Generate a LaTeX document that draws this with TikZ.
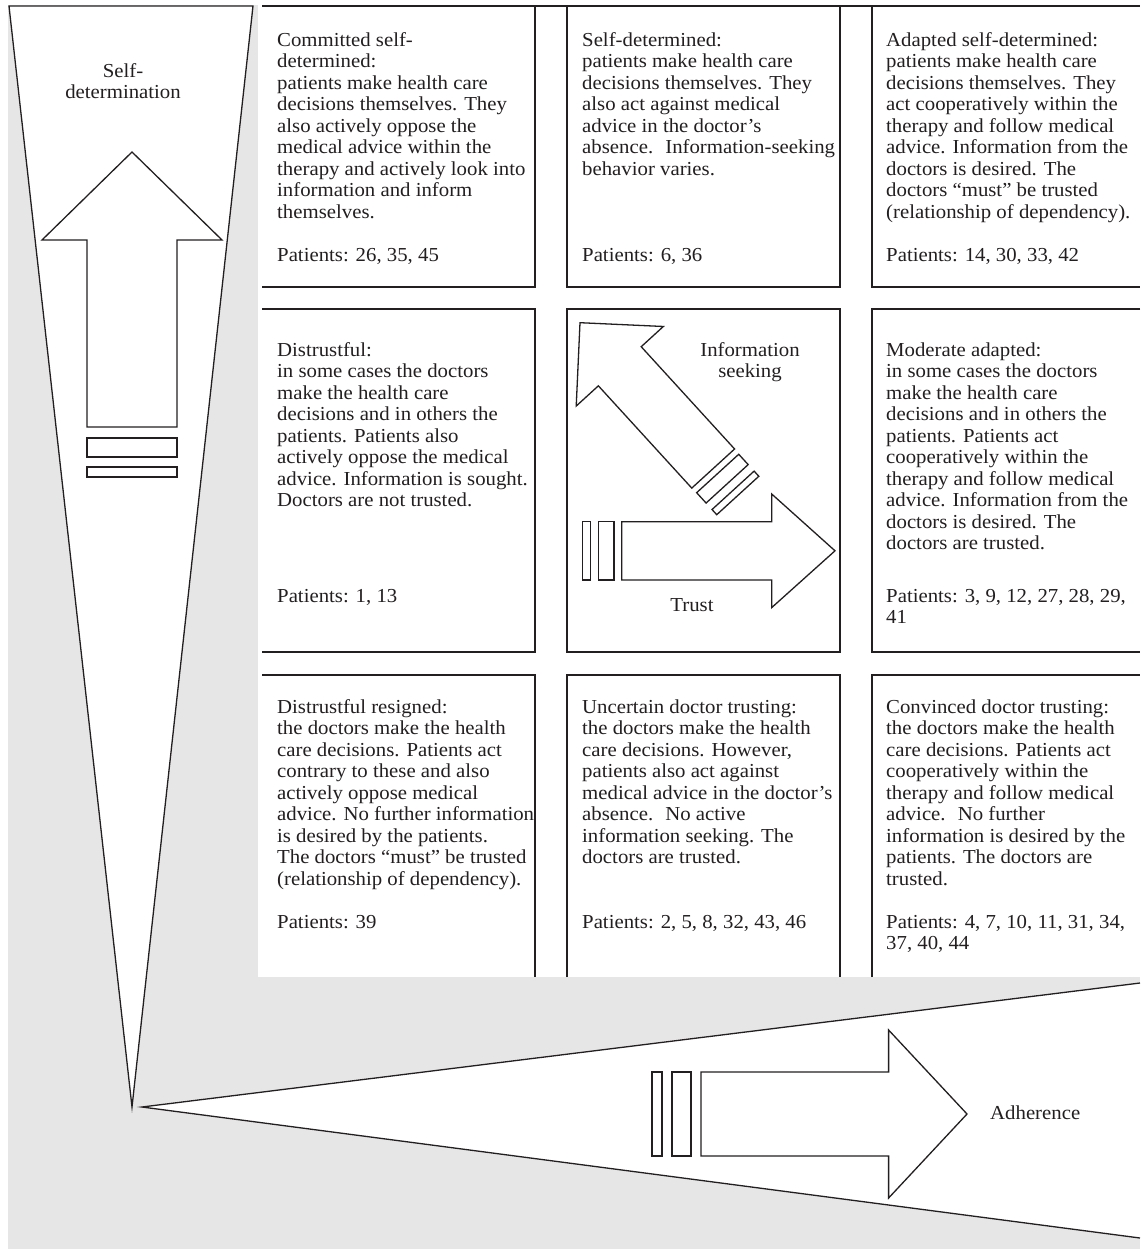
\documentclass[tikz,border=0pt]{standalone}
\usepackage{fontspec}
\setmainfont{Liberation Serif}[FakeStretch=1.05]
\definecolor{bggray}{HTML}{E6E6E6}
\definecolor{ink}{HTML}{231F20}
\begin{document}
\begin{tikzpicture}[x=1pt,y=-1pt,
  boxline/.style={draw=ink,line width=1.4pt},
  shapeline/.style={draw=ink,fill=white,line width=1.3pt,line join=miter},
  txt/.style={anchor=north west,inner sep=0pt,align=left,font=\fontsize{19.8}{21.5}\selectfont,text=ink},
  lbl/.style={inner sep=0pt,align=center,font=\fontsize{19.8}{21.5}\selectfont,text=ink}]
\useasboundingbox (0,0) rectangle (1140,1249);
\fill[white] (0,0) rectangle (1140,1249);
\fill[bggray] (8,5) rectangle (1140,1249);
\fill[white] (258,5) rectangle (1140,977);

% box frames
\draw[boxline] (262,6) -- (1140,6);
\draw[boxline] (262,287) -- (535,287) -- (535,6);
\draw[boxline] (567,6) -- (567,287) -- (840,287) -- (840,6);
\draw[boxline] (872,6) -- (872,287) -- (1140,287);
\draw[boxline] (262,309) -- (535,309) -- (535,652) -- (262,652);
\draw[boxline] (567,309) rectangle (840,652);
\draw[boxline] (1140,309) -- (872,309) -- (872,652) -- (1140,652);
\draw[boxline] (262,675) -- (535,675) -- (535,977);
\draw[boxline] (567,977) -- (567,675) -- (840,675) -- (840,977);
\draw[boxline] (872,977) -- (872,675) -- (1140,675);

% wedges
\draw[shapeline] (9,6) -- (253,6) -- (132,1107) -- cycle;
\fill[white] (1140,983) -- (142,1107) -- (1140,1238) -- cycle;
\draw[ink,line width=1.3pt,line join=miter] (1140,983) -- (142,1107) -- (1140,1238);

% vertical arrow
\draw[shapeline] (132,152) -- (222,240) -- (177,240) -- (177,427) -- (87,427) -- (87,240) -- (42,240) -- cycle;
\draw[shapeline] (87,438) rectangle (177,457);
\draw[shapeline] (87,467) rectangle (177,477);

% trust arrow
\draw[shapeline] (621.7,521.7) -- (771.7,521.7) -- (771.7,494) -- (835,550.8) -- (771.7,607.6) -- (771.7,580) -- (621.7,580) -- cycle;
\draw[shapeline] (598.3,521.7) rectangle (614,580);
\draw[shapeline] (582.7,521.7) rectangle (590.7,580);

% information seeking arrow
\begin{scope}[shift={(580,322.7)},rotate=132.4,y=1pt]
\draw[shapeline] (0,0) -- (-59,-59) -- (-59,-29) -- (-197.5,-29) -- (-197.5,29) -- (-59,29) -- (-59,59) -- cycle;
\draw[shapeline] (-204.2,-28.5) rectangle (-218.2,28.5);
\draw[shapeline] (-227,-28.5) rectangle (-234,28.5);
\end{scope}

% adherence arrow
\draw[shapeline] (701,1072) -- (888.6,1072) -- (888.6,1030) -- (967,1114) -- (888.6,1198) -- (888.6,1156) -- (701,1156) -- cycle;
\draw[shapeline] (672,1072) rectangle (691,1156);
\draw[shapeline] (652,1072) rectangle (662,1156);

% labels
\node[lbl,anchor=north] (selfdet) at (123,62) {\strut Self-\\determination};
\node[lbl,anchor=north] (infoseek) at (750,341) {\strut Information\\seeking};
\node[lbl,anchor=base] (trust) at (692,611) {Trust};
\node[lbl,anchor=base west] (adher) at (990,1119) {Adherence};

% row 1
\node[txt] (t11) at (277,31) {\strut Committed self-\\determined:\\patients make health care\\decisions themselves. They\\also actively oppose the\\medical advice within the\\therapy and actively look into\\information and inform\\themselves.};
\node[txt] (p11) at (277,246) {\strut Patients: 26, 35, 45};
\node[txt] (t12) at (582,31) {\strut Self-determined:\\patients make health care\\decisions themselves. They\\also act against medical\\advice in the doctor’s\\absence.~ Information-seeking\\behavior varies.};
\node[txt] (p12) at (582,246) {\strut Patients: 6, 36};
\node[txt] (t13) at (886,31) {\strut Adapted self-determined:\\patients make health care\\decisions themselves. They\\act cooperatively within the\\therapy and follow medical\\advice. Information from the\\doctors is desired. The\\doctors “must” be trusted\\(relationship of dependency).};
\node[txt] (p13) at (886,246) {\strut Patients: 14, 30, 33, 42};

% row 2
\node[txt] (t21) at (277,341) {\strut Distrustful:\\in some cases the doctors\\make the health care\\decisions and in others the\\patients. Patients also\\actively oppose the medical\\advice. Information is sought.\\Doctors are not trusted.};
\node[txt] (p21) at (277,587) {\strut Patients: 1, 13};
\node[txt] (t23) at (886,341) {\strut Moderate adapted:\\in some cases the doctors\\make the health care\\decisions and in others the\\patients. Patients act\\cooperatively within the\\therapy and follow medical\\advice. Information from the\\doctors is desired. The\\doctors are trusted.};
\node[txt] (p23) at (886,587) {\strut Patients: 3, 9, 12, 27, 28, 29,\\41};

% row 3
\node[txt] (t31) at (277,698) {\strut Distrustful resigned:\\the doctors make the health\\care decisions. Patients act\\contrary to these and also\\actively oppose medical\\advice. No further information\\is desired by the patients.\\The doctors “must” be trusted\\(relationship of dependency).};
\node[txt] (p31) at (277,913) {\strut Patients: 39};
\node[txt] (t32) at (582,698) {\strut Uncertain doctor trusting:\\the doctors make the health\\care decisions. However,\\patients also act against\\medical advice in the doctor’s\\absence.~ No active\\information seeking. The\\doctors are trusted.};
\node[txt] (p32) at (582,913) {\strut Patients: 2, 5, 8, 32, 43, 46};
\node[txt] (t33) at (886,698) {\strut Convinced doctor trusting:\\the doctors make the health\\care decisions. Patients act\\cooperatively within the\\therapy and follow medical\\advice.~ No further\\information is desired by the\\patients. The doctors are\\trusted.};
\node[txt] (p33) at (886,913) {\strut Patients: 4, 7, 10, 11, 31, 34,\\37, 40, 44};
\end{tikzpicture}
\end{document}
